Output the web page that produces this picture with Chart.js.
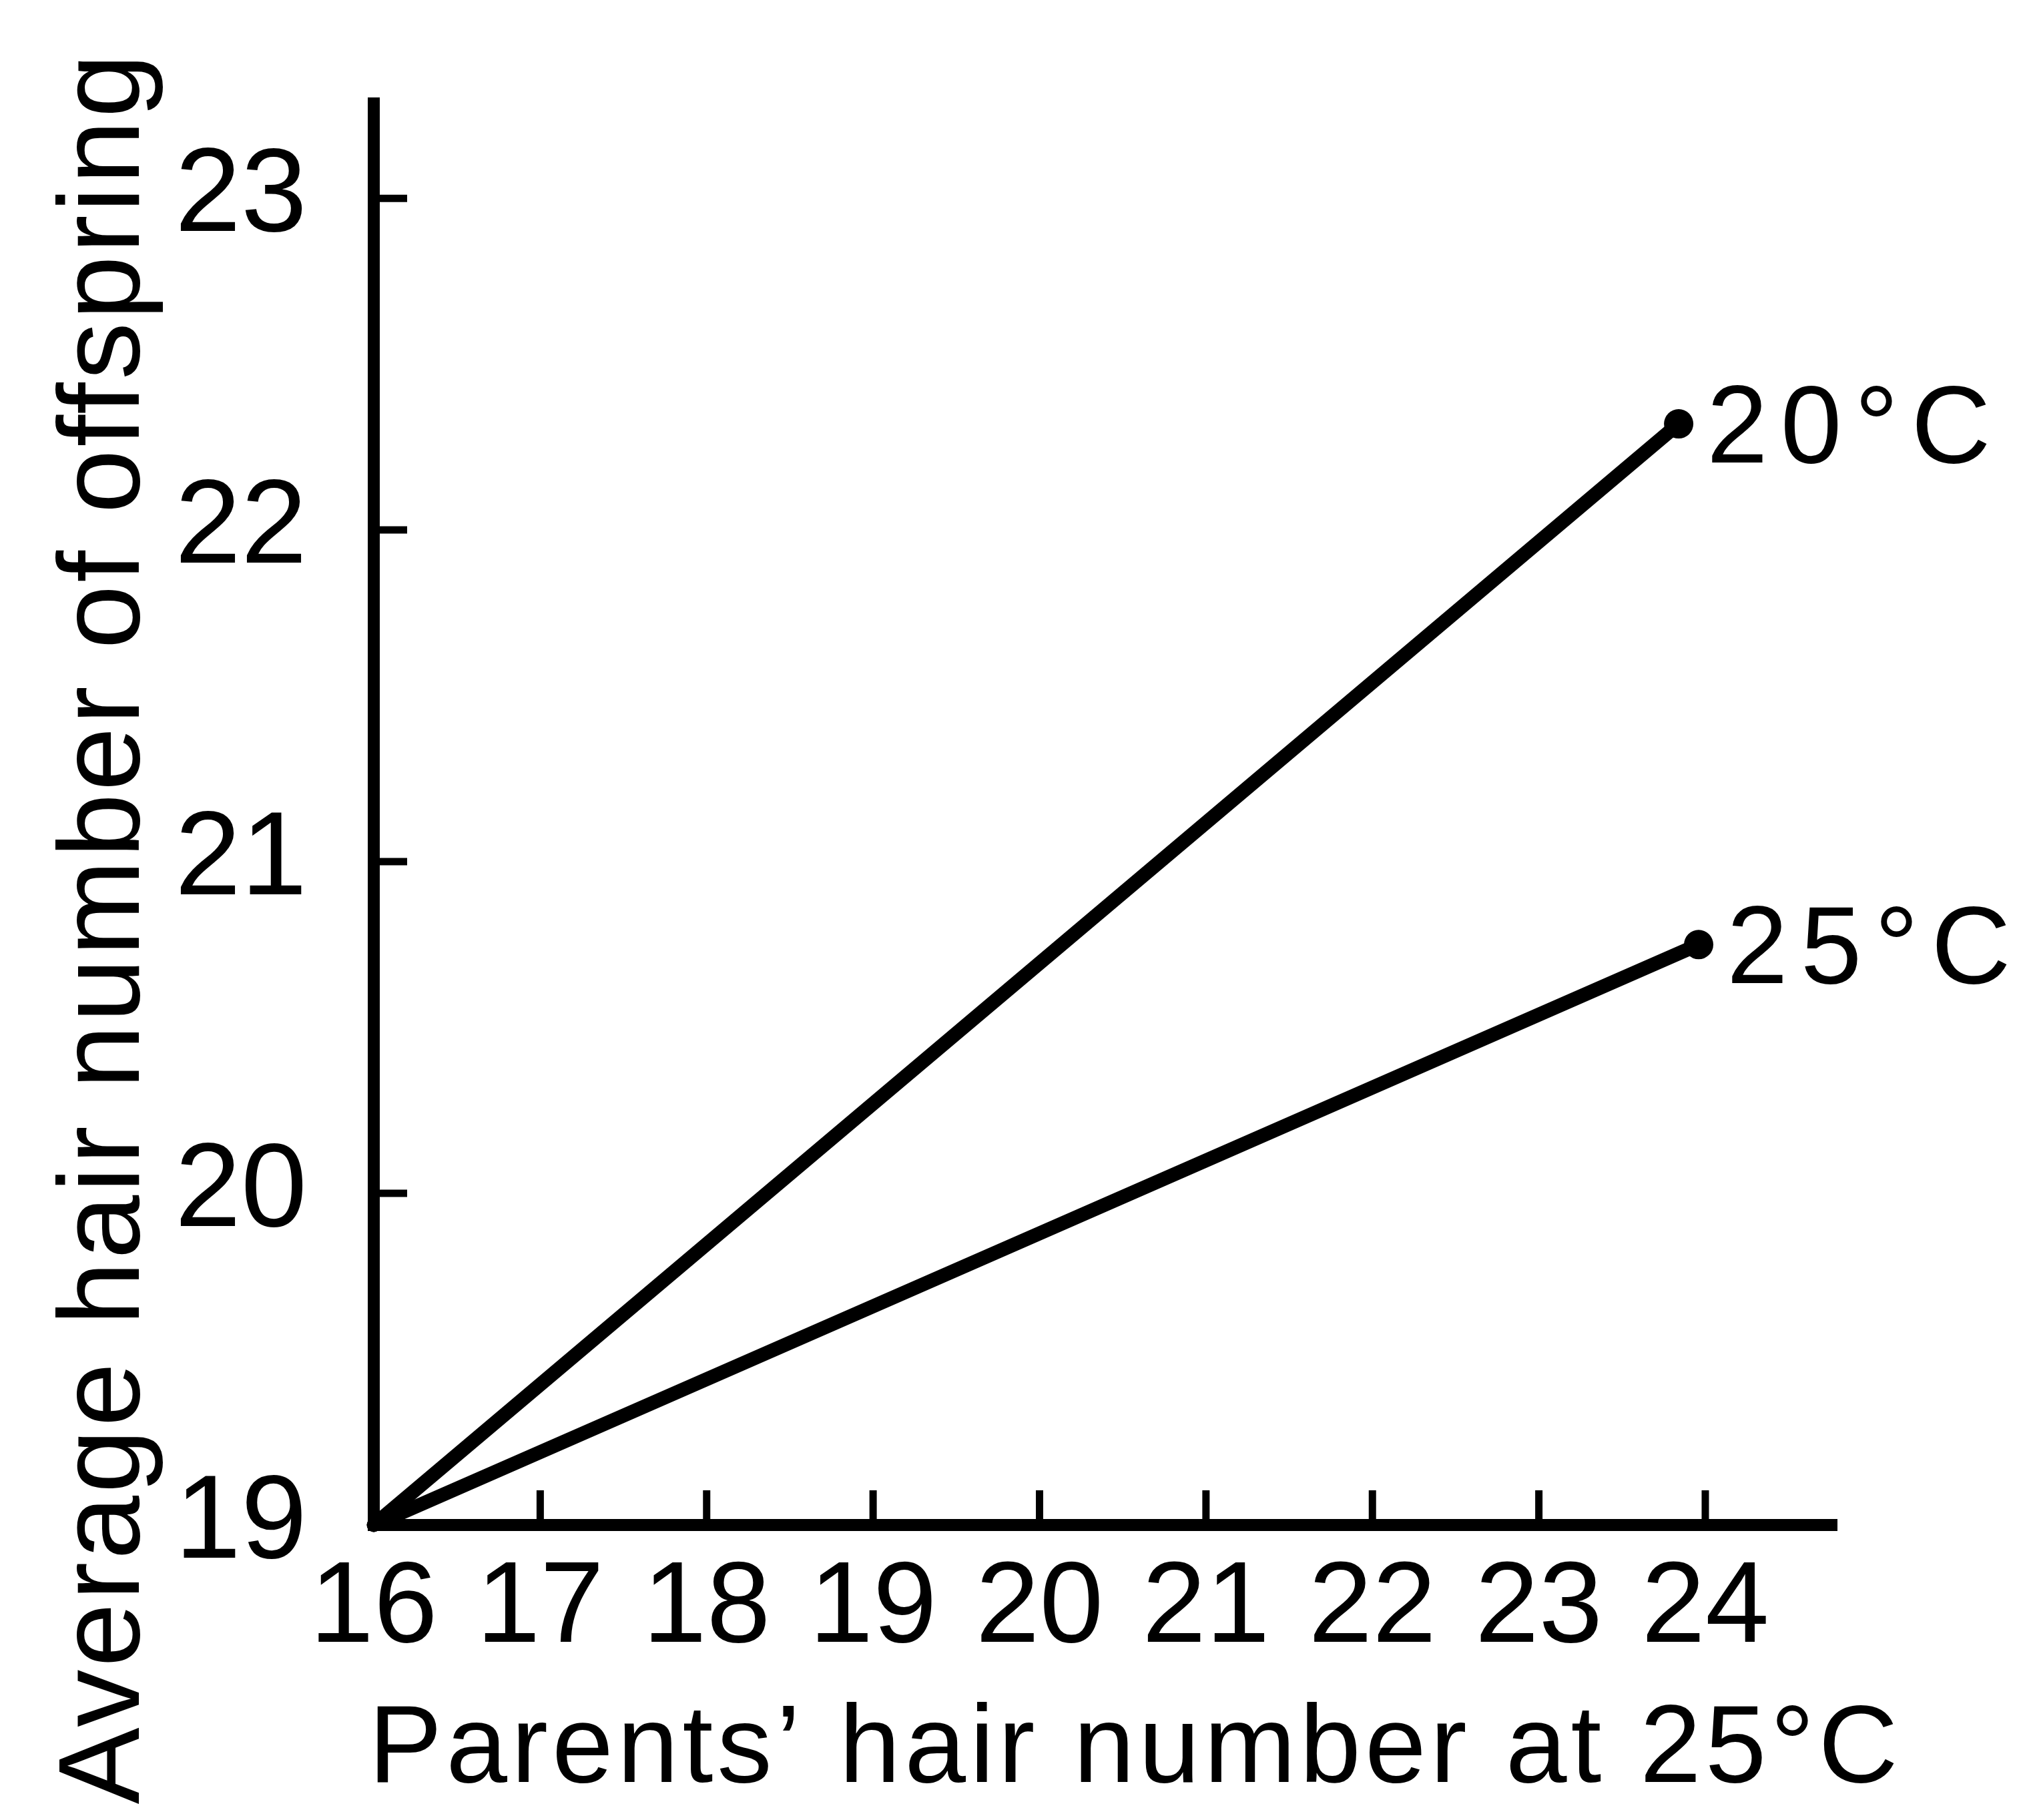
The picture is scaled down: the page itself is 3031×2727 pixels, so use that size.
<!DOCTYPE html>
<html>
<head>
<meta charset="utf-8">
<title>Offspring hair number vs parents' hair number</title>
<script src="https://cdn.jsdelivr.net/npm/chart.js@4.4.1/dist/chart.umd.min.js"></script>
<style>
  html, body { margin: 0; padding: 0; background: #fff; }
  canvas { display: block; }
</style>
</head>
<body>
<canvas id="chart" width="3031" height="2727"></canvas>
<script>
// Parents' hair number (x) and average offspring hair number (y) per rearing temperature
const parentsHair20 = [16, 23.84];
const offspringHair20 = [19, 22.32];
const parentsHair25 = [16, 23.96];
const offspringHair25 = [19, 20.75];
const seriesLabels = ['20°C', '25°C'];

// Axis ticks
const xTicks = [16, 17, 18, 19, 20, 21, 22, 23, 24];
const yTicks = [19, 20, 21, 22, 23];

const xTitle = 'Parents’ hair number at 25°C';
const yTitle = 'Average hair number of offspring';

const FONT = "'Liberation Sans', Arial, sans-serif";

function toPoints(xs, ys) {
  return xs.map((x, i) => ({ x: x, y: ys[i] }));
}

// Keep the plot area exactly where the layout padding puts it
function fixScale(size) {
  return scale => {
    if (scale.isHorizontal()) scale.height = size; else scale.width = size;
    scale.paddingTop = 0;
    scale.paddingBottom = 0;
    scale.paddingLeft = 0;
    scale.paddingRight = 0;
  };
}

// Inward tick marks, axis titles and the end-of-line temperature labels
const annotations = {
  id: 'annotations',
  afterDraw(chart) {
    const { ctx, chartArea } = chart;
    const xs = chart.scales.x, ys = chart.scales.y;
    ctx.save();
    ctx.strokeStyle = '#000';
    ctx.fillStyle = '#000';
    ctx.lineWidth = 11;
    ctx.lineCap = 'butt';
    xTicks.slice(1).forEach(v => {
      const px = xs.getPixelForValue(v);
      ctx.beginPath();
      ctx.moveTo(px, chartArea.bottom);
      ctx.lineTo(px, chartArea.bottom - 52);
      ctx.stroke();
    });
    yTicks.slice(1).forEach(v => {
      const py = ys.getPixelForValue(v);
      ctx.beginPath();
      ctx.moveTo(chartArea.left, py);
      ctx.lineTo(chartArea.left + 50, py);
      ctx.stroke();
    });

    // Temperature labels beside the last point of each line
    ctx.font = '165px ' + FONT;
    ctx.letterSpacing = '19px';
    ctx.textAlign = 'left';
    ctx.textBaseline = 'alphabetic';
    chart.data.datasets.forEach((ds, i) => {
      const meta = chart.getDatasetMeta(i);
      const pt = meta.data[meta.data.length - 1];
      ctx.fillText(seriesLabels[i], pt.x + 42, pt.y + 58);
    });

    // X axis title
    ctx.font = '165px ' + FONT;
    ctx.letterSpacing = '6px';
    ctx.textAlign = 'center';
    ctx.fillText(xTitle, 1701, 2670);

    // Y axis title, reading bottom to top
    ctx.save();
    ctx.translate(208, 1390);
    ctx.rotate(-Math.PI / 2);
    ctx.font = '172px ' + FONT;
    ctx.letterSpacing = '4px';
    ctx.textAlign = 'center';
    ctx.fillText(yTitle, 0, 0);
    ctx.restore();

    ctx.restore();
  }
};

const lineStyle = {
  borderColor: '#000',
  borderWidth: 21,
  borderCapStyle: 'round',
  tension: 0,
  pointRadius: [0, 22],
  pointBackgroundColor: '#000',
  pointBorderWidth: 0,
  pointHoverRadius: [0, 22],
  clip: false
};

new Chart(document.getElementById('chart'), {
  type: 'line',
  data: {
    datasets: [
      Object.assign({ label: seriesLabels[0], data: toPoints(parentsHair20, offspringHair20) }, lineStyle),
      Object.assign({ label: seriesLabels[1], data: toPoints(parentsHair25, offspringHair25) }, lineStyle)
    ]
  },
  options: {
    responsive: false,
    animation: false,
    events: [],
    layout: {
      autoPadding: false,
      padding: { left: 0, top: 155, right: 279, bottom: 0 }
    },
    plugins: {
      legend: { display: false },
      tooltip: { enabled: false },
      title: { display: false }
    },
    scales: {
      x: {
        type: 'linear',
        min: 16,
        max: 24.79,
        afterBuildTicks: scale => { scale.ticks = xTicks.map(v => ({ value: v })); },
        afterFit: fixScale(442),
        grid: { display: false, drawTicks: false },
        border: { display: true, color: '#000', width: 18 },
        ticks: {
          color: '#000',
          padding: 24,
          maxRotation: 0,
          autoSkip: false,
          font: { family: FONT, size: 172 },
          callback: v => String(v)
        }
      },
      y: {
        type: 'linear',
        min: 19,
        max: 23.286,
        afterBuildTicks: scale => { scale.ticks = yTicks.map(v => ({ value: v })); },
        afterFit: fixScale(560),
        grid: { display: false, drawTicks: false },
        border: { display: true, color: '#000', width: 18 },
        ticks: {
          color: '#000',
          padding: 100,
          autoSkip: false,
          font: { family: FONT, size: 178 },
          callback: v => String(v)
        }
      }
    }
  },
  plugins: [annotations]
});
</script>
</body>
</html>
